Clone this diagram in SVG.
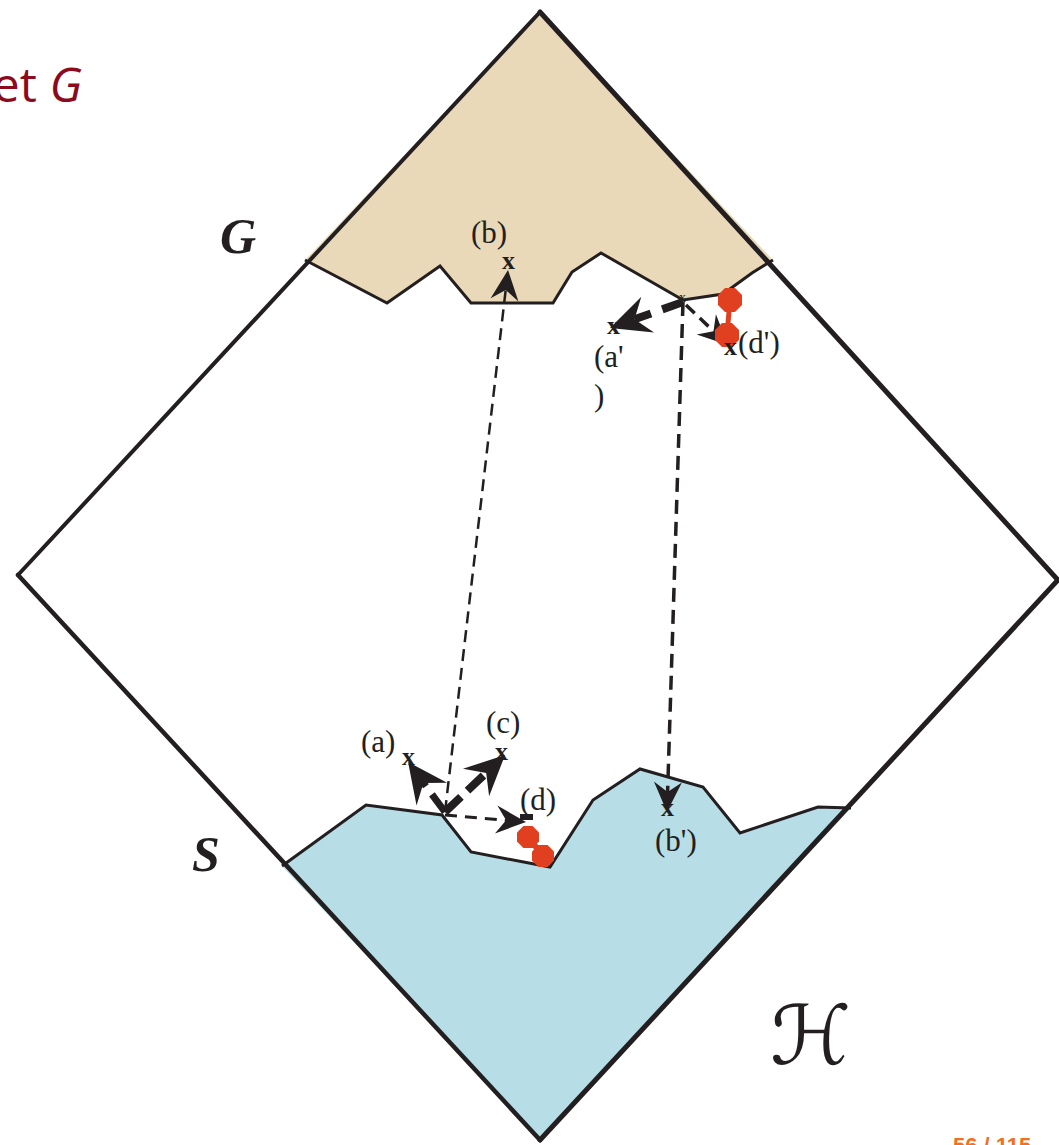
<svg xmlns="http://www.w3.org/2000/svg" width="1059" height="1145" viewBox="0 0 1059 1145">
<style>
.lbl{font-family:"Liberation Serif","Times New Roman",serif;font-size:31px;fill:#231f20}
.xm{font-family:"Liberation Serif","Times New Roman",serif;font-size:26px;font-weight:bold;fill:#231f20}
.xs{font-family:"Liberation Serif","Times New Roman",serif;font-size:14px;fill:#231f20}
.big{font-family:"Liberation Serif","Times New Roman",serif;font-size:50px;font-weight:bold;font-style:italic;fill:#231f20}
.edge{fill:none;stroke:#231f20;stroke-linecap:round;stroke-linejoin:round}
.rim{fill:none;stroke:#231f20;stroke-width:3;stroke-linejoin:miter}
.dash{fill:none;stroke:#231f20;stroke-linecap:butt}
.red{fill:#E0401F}
</style>
<defs>
<marker id="mL" viewBox="-16 -22 44 44" markerWidth="44" markerHeight="44" refX="0" refY="0" orient="auto" markerUnits="userSpaceOnUse">
<path d="M26,0 L-14,-19 L0,0 L-14,19 Z" fill="#231f20"/>
</marker>
<marker id="mM" viewBox="-12 -16 34 32" markerWidth="34" markerHeight="32" refX="0" refY="0" orient="auto" markerUnits="userSpaceOnUse">
<path d="M20,0 L-10,-14 L0,0 L-10,14 Z" fill="#231f20"/>
</marker>
</defs>

<text x="82" y="102" text-anchor="end" font-family="'Open Sans','Noto Sans',sans-serif" font-size="48" fill="#8B0A1E">et <tspan font-style="italic">G</tspan></text>

<g id="region-G">
<polygon points="540,12 305,260 387,303 440,266 471,303 553,303 572,272 601,253 683,300 723,294 752,273 773,260" fill="#E9D9B8"/>
<polyline class="rim" points="305,260 387,303 440,266 471,303 553,303 572,272 601,253 683,300 723,294 752,273 773,260"/>
</g>

<g id="region-S">
<polygon points="282,866 366,805 442,815 471,852 550,867 593,800 640,769 703,787 740,833 818,807 851,808 540,1140" fill="#B7DDE6"/>
<polyline class="rim" points="282,866 366,805 442,815 471,852 550,867 593,800 640,769 703,787 740,833 818,807 851,808"/>
</g>

<g id="diamond">
<line class="edge" x1="540" y1="12" x2="18" y2="575" stroke-width="4"/>
<line class="edge" x1="18" y1="575" x2="540" y2="1140" stroke-width="4.5"/>
<line class="edge" x1="540" y1="1140" x2="1058" y2="580" stroke-width="5"/>
<line class="edge" x1="1058" y1="580" x2="540" y2="12" stroke-width="5"/>
</g>

<g id="labels">
<text class="big" x="220" y="253">G</text>
<text class="big" x="192" y="871">S</text>
<text x="770" y="1064" font-family="'DejaVu Serif','DejaVu Sans',serif" font-size="82" fill="#231f20">ℋ</text>
</g>

<g id="connectors">
<line class="dash" x1="445" y1="812" x2="505.7" y2="289.9" stroke-width="2.5" stroke-dasharray="12,7" marker-end="url(#mM)"/>
<line class="dash" x1="683" y1="302" x2="667.6" y2="792" stroke-width="3.5" stroke-dasharray="14,8" marker-end="url(#mM)"/>
<line class="dash" x1="683" y1="302" x2="634.5" y2="319.3" stroke-width="8" stroke-dasharray="22,12" marker-end="url(#mL)"/>
<line class="dash" x1="686" y1="305" x2="713.5" y2="331.2" stroke-width="3.5" stroke-dasharray="12,7" marker-end="url(#mM)"/>
<line class="dash" x1="445" y1="812" x2="423.5" y2="782.9" stroke-width="7" stroke-dasharray="22,10" marker-end="url(#mL)"/>
<line class="dash" x1="445" y1="812" x2="486.2" y2="772.9" stroke-width="8" stroke-dasharray="22,9" marker-end="url(#mL)"/>
<line class="dash" x1="445" y1="815" x2="506.1" y2="820.3" stroke-width="3" stroke-dasharray="12,8" marker-end="url(#mM)"/>
</g>

<g id="molecule-d">
<line x1="528" y1="837" x2="543" y2="856" stroke="#E0401F" stroke-width="6"/>
<polygon class="red" points="532.6,826 539,832.4 539,841.6 532.6,848 523.4,848 517,841.6 517,832.4 523.4,826"/>
<polygon class="red" points="547.6,845 554,851.4 554,860.6 547.6,867 538.4,867 532,860.6 532,851.4 538.4,845"/>
<rect x="520" y="814" width="13" height="6" fill="#231f20"/>
</g>

<g id="molecule-dp">
<line x1="730" y1="300" x2="727" y2="335" stroke="#E0401F" stroke-width="5"/>
<polygon class="red" points="735,288 742,295 742,305 735,312 725,312 718,305 718,295 725,288"/>
<polygon class="red" points="732,323 739,330 739,340 732,347 722,347 715,340 715,330 722,323"/>
</g>

<g id="node-b"><text class="lbl" x="471" y="243">(b)</text><text class="xm" x="502" y="269">x</text></g>
<g id="node-bp"><text class="xm" x="661" y="816">x</text><text class="lbl" x="655" y="851">(b')</text></g>
<g id="node-ap"><text class="xm" x="607" y="334">x</text><text class="lbl" x="594" y="367">(a'</text><text class="lbl" x="594" y="406">)</text></g>
<g id="node-dp"><text class="xm" x="724" y="355">x</text><text class="lbl" x="738" y="353">(d')</text></g>
<g id="node-a"><text class="lbl" x="361" y="752">(a)</text><text class="xm" x="402" y="765">x</text></g>
<g id="node-c"><text class="lbl" x="486" y="733">(c)</text><text class="xm" x="495" y="760">x</text></g>
<g id="node-d"><text class="lbl" x="520" y="810">(d)</text></g>
<g id="points"><text class="xs" x="679" y="302">x</text><text class="xs" x="441" y="812">x</text></g>

<text x="953" y="1153" font-family="'Liberation Sans',Arial,sans-serif" font-size="22" font-weight="bold" fill="#F36F21">56 / 115</text>
</svg>
